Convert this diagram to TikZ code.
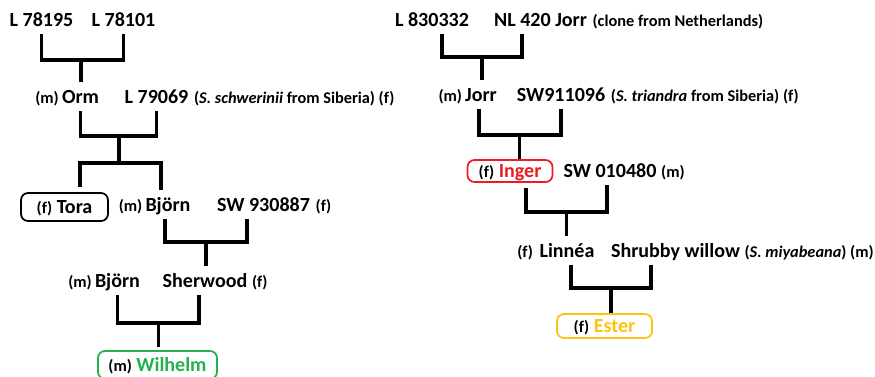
\documentclass[tikz,border=0pt]{standalone}
\usepackage{fontspec}
\setmainfont{Carlito}
\usetikzlibrary{positioning}
\definecolor{treered}{HTML}{ED1C24}
\definecolor{treegreen}{HTML}{22B14C}
\definecolor{treeyellow}{HTML}{FFC20E}
\newcommand{\tagfont}{\fontsize{9.3}{11}\selectfont}

\begin{document}
\begin{tikzpicture}
  % Pedigree of the willow clones Wilhelm and Ester
  % Styles
  \tikzstyle{plant} = [font=\bfseries\fontsize{11.4}{13}\selectfont, anchor=base, inner xsep=0pt, inner ysep=4.5pt, text height=7.4pt, text depth=0pt]
  \tikzstyle{tag} = [font=\bfseries\tagfont, inner sep=0pt]
  \tikzstyle{clone} = [draw, rounded corners=4pt, line width=1pt, font=\bfseries\fontsize{11.4}{13}\selectfont, text height=7.4pt, text depth=0pt, inner sep=0pt]
  \tikzstyle{bond} = [line width=2.2pt]

  \useasboundingbox (0,0) rectangle (17.5,-7.52);

  % Left tree
  \node[plant] (l195) at (0.83,-0.52) {L 78195};
  \node[plant] (l101) at (2.47,-0.52) {L 78101};

  \node[plant] (orm) at (1.61,-2.06) {Orm};
  \node[tag, left=0.05cm of orm.base west, anchor=base east] (ormsex) {(m)};
  \node[plant] (l069) at (3.13,-2.06) {L 79069};
  \node[tag, right=0.1cm of l069.base east, anchor=base west] (l069info) {(\textit{S. schwerinii} from Siberia) (f)};

  \node[clone, minimum width=1.74cm, minimum height=0.56cm] (tora) at (1.29,-4.14) {{\tagfont (f)} Tora};
  \node[plant] (bjorn) at (3.36,-4.22) {Björn};
  \node[tag, left=0.05cm of bjorn.base west, anchor=base east] (bjornsex) {(m)};
  \node[plant] (sw887) at (5.27,-4.22) {SW 930887};
  \node[tag, right=0.1cm of sw887.base east, anchor=base west] (sw887sex) {(f)};

  \node[plant] (bjorntwo) at (2.35,-5.74) {Björn};
  \node[tag, left=0.05cm of bjorntwo.base west, anchor=base east] (bjorntwosex) {(m)};
  \node[plant] (sherwood) at (4.10,-5.74) {Sherwood};
  \node[tag, right=0.08cm of sherwood.base east, anchor=base west] (sherwoodsex) {(f)};

  \node[clone, draw=treegreen, minimum width=2.38cm, minimum height=0.56cm] (wilhelm) at (3.15,-7.3) {{\tagfont (m)} \textcolor{treegreen}{Wilhelm}};

  % Right tree
  \node[plant] (l332) at (8.64,-0.52) {L 830332};
  \node[plant] (nl420) at (10.81,-0.52) {NL 420 Jorr};
  \node[tag, right=0.1cm of nl420.base east, anchor=base west] (nl420info) {(clone from Netherlands)};

  \node[plant] (jorr) at (9.62,-2.02) {Jorr};
  \node[tag, left=0.05cm of jorr.base west, anchor=base east] (jorrsex) {(m)};
  \node[plant] (sw096) at (11.22,-2.02) {SW911096};
  \node[tag, right=0.1cm of sw096.base east, anchor=base west] (sw096info) {(\textit{S. triandra} from Siberia) (f)};

  \node[clone, draw=treered, minimum width=1.7cm, minimum height=0.44cm] (inger) at (10.2,-3.42) {{\tagfont (f)} \textcolor{treered}{Inger}};
  \node[plant] (sw480) at (12.2,-3.54) {SW 010480};
  \node[tag, right=0.08cm of sw480.base east, anchor=base west] (sw480sex) {(m)};

  \node[plant] (linnea) at (11.34,-5.14) {Linnéa};
  \node[tag, left=0.12cm of linnea.base west, anchor=base east] (linneasex) {(f)};
  \node[plant] (shrub) at (13.51,-5.14) {Shrubby willow};
  \node[tag, right=0.08cm of shrub.base east, anchor=base west] (shrubinfo) {(\textit{S. miyabeana}) (m)};

  \node[clone, draw=treeyellow, minimum width=1.9cm, minimum height=0.48cm] (ester) at (12.09,-6.52) {{\tagfont (f)} \textcolor{treeyellow}{Ester}};

  % Junctions
  \coordinate (j1) at (1.62,-1.2);
  \coordinate (j2) at (2.38,-2.72);
  \coordinate (j3) at (2.38,-3.26);
  \coordinate (j4) at (4.12,-4.84);
  \coordinate (j5) at (3.17,-6.46);
  \coordinate (k1) at (9.64,-1.14);
  \coordinate (k2) at (10.39,-2.7);
  \coordinate (k3) at (11.33,-4.24);
  \coordinate (k4) at (12.22,-5.76);

  % Crosses, left
  \draw[bond] (l195.south) |- (j1) -| (l101.south);
  \draw[bond] (j1) -- (j1 |- orm.north);
  \draw[bond] (orm.south) |- (j2) -| (l069.south);
  \draw[bond] (j2) -- (j3);
  \draw[bond] ([xshift=0.31cm,yshift=0.1cm]tora.north) |- (j3) -| ([xshift=-0.14cm]bjorn.north);
  \draw[bond] ([xshift=-0.06cm]bjorn.south) |- (j4) -| ([xshift=-0.33cm]sw887.south);
  \draw[bond] (j4) -- (j4 |- sherwood.north);
  \draw[bond] (bjorntwo.south) |- (j5) -| ([xshift=-0.12cm]sherwood.south);
  \draw[bond] (j5) -- ([yshift=0.06cm]j5 |- wilhelm.north);

  % Crosses, right
  \draw[bond] ([xshift=0.2cm]l332.south) |- (k1) -| ([xshift=-0.37cm]nl420.south);
  \draw[bond] (k1) -- (k1 |- jorr.north);
  \draw[bond] ([xshift=-0.04cm]jorr.south) |- (k2) -| (sw096.south);
  \draw[bond] (k2) -- (k2 |- inger.north);
  \draw[bond] ([xshift=0.32cm,yshift=-0.1cm]inger.south) |- (k3) -| ([xshift=-0.06cm]sw480.south);
  \draw[bond] (k3) -- (k3 |- linnea.north);
  \draw[bond] ([xshift=0.08cm]linnea.south) |- (k4) -| ([xshift=-0.49cm]shrub.south);
  \draw[bond] (k4) -- (k4 |- ester.north);

\end{tikzpicture}
\end{document}
